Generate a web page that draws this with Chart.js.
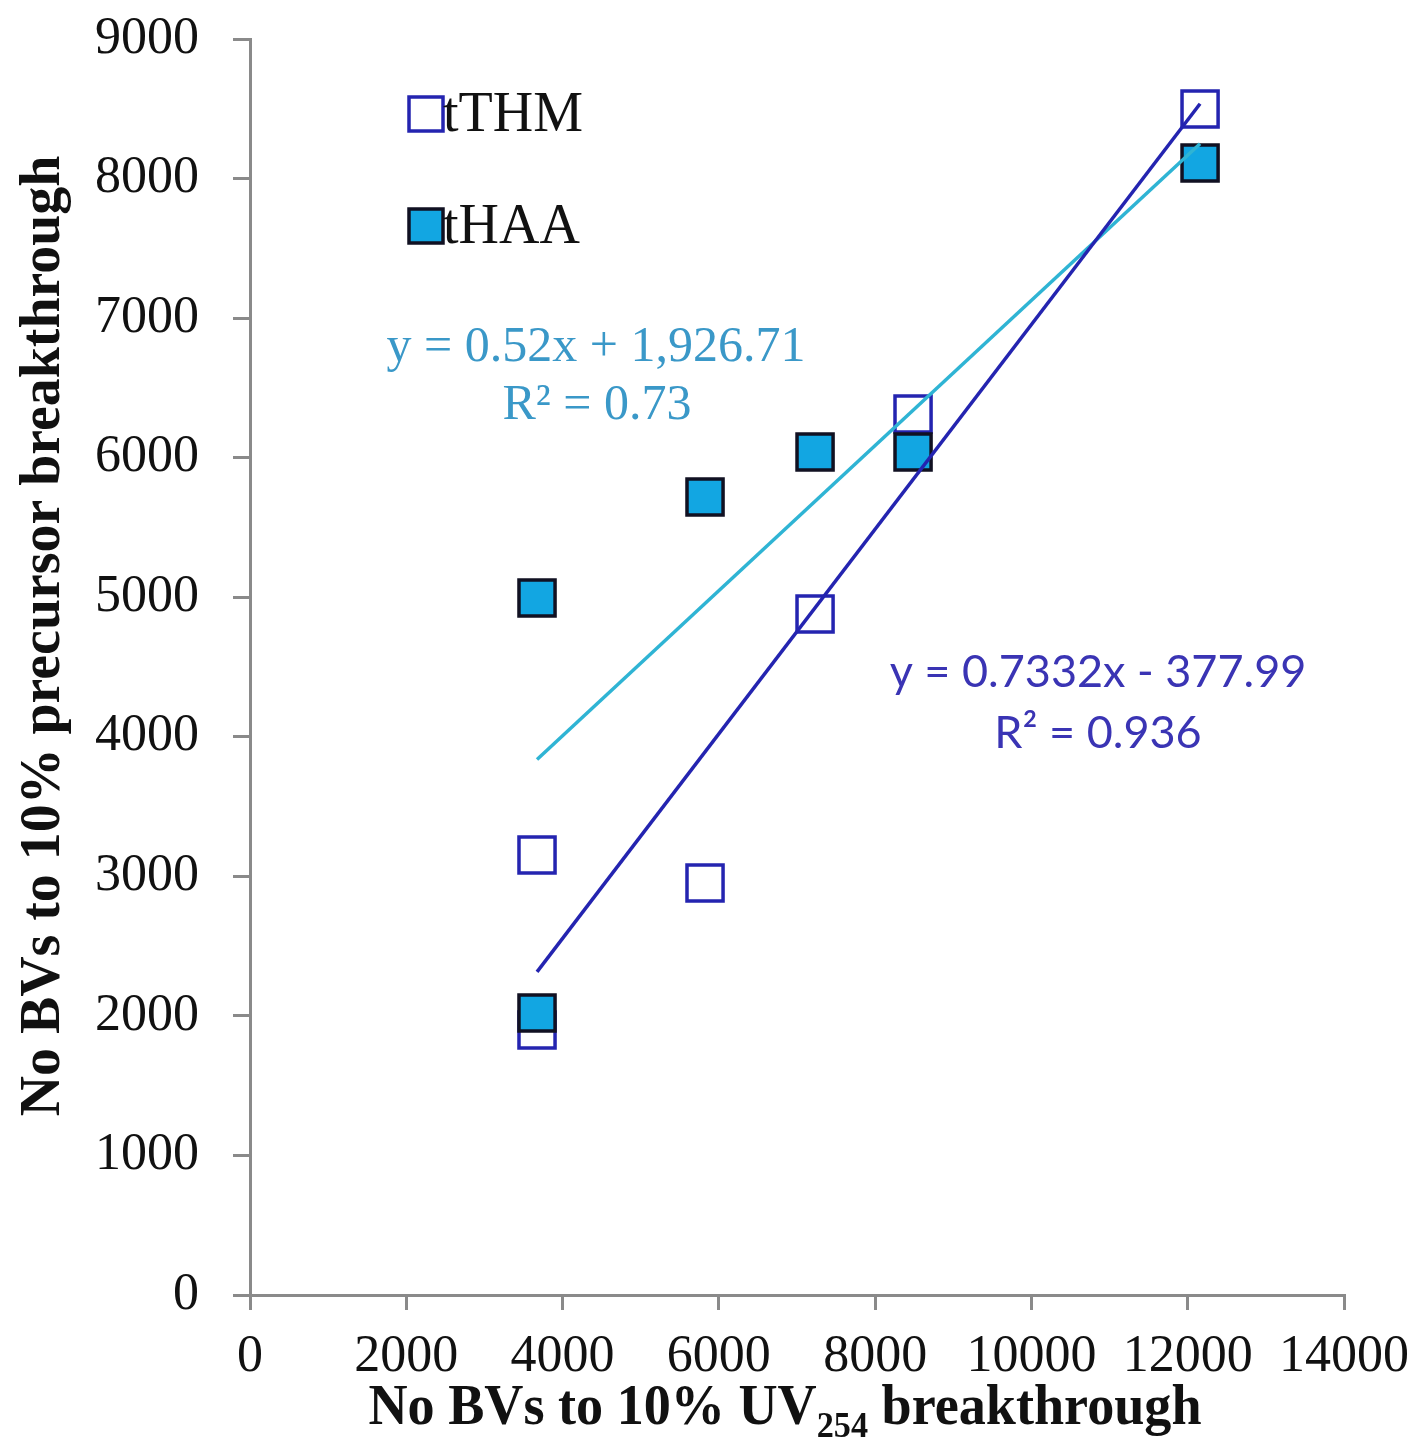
<!DOCTYPE html>
<html>
<head>
<meta charset="utf-8">
<script src="https://cdn.jsdelivr.net/npm/chart.js@4.4.0/dist/chart.umd.min.js"></script>
<style>
  html, body { margin: 0; padding: 0; background: #fff; }
  #wrap { width: 1427px; height: 1453px; }
</style>
</head>
<body>
<div id="wrap"><canvas id="myChart" width="1427" height="1453"></canvas></div>
<script>
// bed volumes to 10% UV254 breakthrough (one per column run)
const uvBVs = [3673, 5823, 7231, 8485, 12158, 3673];
// bed volumes to 10% precursor breakthrough
const thmBVs = [3153, 2952, 4880, 6313, 8498, 1899];
const haaBVs = [4994, 5718, 6040, 6040, 8111, 2021];

// linear fits [slope, intercept, r2]
const thmFit = [0.7332, -377.99, 0.936];
const haaFit = [0.52, 1926.71, 0.73];

const xTicks = [0, 2000, 4000, 6000, 8000, 10000, 12000, 14000];
const yTicks = [0, 1000, 2000, 3000, 4000, 5000, 6000, 7000, 8000, 9000];

const thmColor = '#2424b0';
const haaColor = '#12a6e2';
const haaLine = '#2fb4d4';
const axisGray = '#8a8a8a';

const serif = '"Liberation Serif", "Times New Roman", serif';

function pts(ys) {
    return uvBVs.map((x, i) => ({ x: x, y: ys[i] }));
}

function fitLine(fit) {
    const lo = Math.min(...uvBVs);
    const hi = Math.max(...uvBVs);
    return [lo, hi].map(x => ({ x: x, y: fit[0] * x + fit[1] }));
}

// draw text squeezed a little horizontally, like the narrow Times on the axes
function narrowText(c, text, x, y, sx) {
    c.save();
    c.translate(x, y);
    c.scale(sx, 1);
    c.fillText(text, 0, 0);
    c.restore();
}

// legend, equations and axis titles (x title has a subscript)
const annotations = {
    id: 'annotations',
    afterDraw(chart) {
        const c = chart.ctx;
        c.save();

        // legend
        const side = 34;
        const lx = 409;
        [[114, 'tTHM', '#ffffff', thmColor], [226, 'tHAA', haaColor, '#111122']].forEach(r => {
            c.lineWidth = 3.5;
            c.fillStyle = r[2];
            c.strokeStyle = r[3];
            c.fillRect(lx, r[0] - side / 2, side, side);
            c.strokeRect(lx, r[0] - side / 2, side, side);
            c.fillStyle = '#111';
            c.font = '56px ' + serif;
            c.textAlign = 'left';
            c.textBaseline = 'middle';
            c.fillText(r[1], lx + side, r[0] + 2);
        });

        // tHAA equation
        c.textAlign = 'center';
        c.textBaseline = 'middle';
        c.fillStyle = '#3a98c8';
        c.font = '50px ' + serif;
        c.fillText('y = ' + haaFit[0].toFixed(2) + 'x + 1,926.71', 596, 348);
        c.fillText('R² = ' + haaFit[2].toFixed(2), 597, 406);

        // tTHM equation
        c.fillStyle = '#3a34b4';
        c.font = '45px Lato, "Open Sans", sans-serif';
        c.fillText('y = ' + thmFit[0] + 'x - ' + Math.abs(thmFit[1]), 1098, 672);
        c.fillText('R² = ' + thmFit[2], 1098, 733);

        // x axis title with subscript
        const sx = 0.95;
        c.fillStyle = '#111';
        c.textAlign = 'left';
        c.textBaseline = 'alphabetic';
        const big = 'bold 57px ' + serif;
        const small = 'bold 36px ' + serif;
        const parts = [['No BVs to 10% UV', big, 0], ['254', small, 13], [' breakthrough', big, 0]];
        let total = 0;
        parts.forEach(p => { c.font = p[1]; total += c.measureText(p[0]).width * sx; });
        let x = 785 - total / 2;
        parts.forEach(p => {
            c.font = p[1];
            narrowText(c, p[0], x, 1424 + p[2], sx);
            x += c.measureText(p[0]).width * sx;
        });

        // y axis title
        c.translate(44, 636);
        c.rotate(-Math.PI / 2);
        c.textAlign = 'center';
        c.textBaseline = 'middle';
        c.font = big;
        narrowText(c, 'No BVs to 10% precursor breakthrough', 0, 0, 0.98);

        c.restore();
    }
};

const ctx = document.getElementById('myChart').getContext('2d');

const myChart = new Chart(ctx, {
    type: 'scatter',
    data: {
        datasets: [
            {
                label: 'tTHM fit',
                data: fitLine(thmFit),
                showLine: true,
                borderColor: thmColor,
                borderWidth: 3.5,
                pointRadius: 0,
                order: 0
            },
            {
                label: 'tHAA fit',
                data: fitLine(haaFit),
                showLine: true,
                borderColor: haaLine,
                borderWidth: 3.5,
                pointRadius: 0,
                order: 0
            },
            {
                label: 'tHAA',
                data: pts(haaBVs),
                pointStyle: 'rect',
                pointRadius: 25.5,
                pointBorderWidth: 3.5,
                pointBackgroundColor: haaColor,
                pointBorderColor: '#111122',
                order: 1
            },
            {
                label: 'tTHM',
                data: pts(thmBVs),
                pointStyle: 'rect',
                pointRadius: 25.5,
                pointBorderWidth: 3.5,
                pointBackgroundColor: 'rgba(255,255,255,0)',
                pointBorderColor: thmColor,
                order: 2
            }
        ]
    },
    options: {
        responsive: false,
        animation: false,
        layout: { padding: { top: 39, right: 83, left: 0, bottom: 0 } },
        plugins: {
            legend: { display: false },
            tooltip: { enabled: false }
        },
        scales: {
            x: {
                type: 'linear',
                min: 0,
                max: 14000,
                afterBuildTicks: s => { s.ticks = xTicks.map(v => ({ value: v })); },
                afterFit: s => {
                    s.height = 158;
                    s.paddingLeft = 0;
                    s.paddingRight = 0;
                },
                border: { color: axisGray, width: 3 },
                grid: {
                    drawOnChartArea: false,
                    color: axisGray,
                    lineWidth: 3,
                    tickLength: 15
                },
                ticks: {
                    color: '#111',
                    font: { family: serif, size: 52 },
                    padding: 16,
                    maxRotation: 0,
                    autoSkip: false,
                    callback: v => String(v)
                }
            },
            y: {
                type: 'linear',
                min: 0,
                max: 9000,
                afterBuildTicks: s => { s.ticks = yTicks.map(v => ({ value: v })); },
                afterFit: s => {
                    s.width = 250;
                    s.paddingTop = 0;
                    s.paddingBottom = 0;
                },
                border: { color: axisGray, width: 3 },
                grid: {
                    drawOnChartArea: false,
                    color: axisGray,
                    lineWidth: 3,
                    tickLength: 17
                },
                ticks: {
                    color: '#111',
                    font: { family: serif, size: 52 },
                    padding: 34,
                    autoSkip: false,
                    callback: v => String(v)
                }
            }
        }
    },
    plugins: [annotations]
});
</script>
</body>
</html>
